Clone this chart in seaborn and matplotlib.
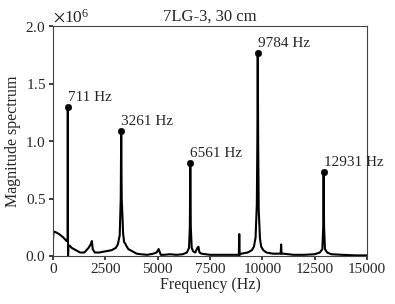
import matplotlib
matplotlib.use("Agg")
import matplotlib.pyplot as plt
from matplotlib.ticker import ScalarFormatter
import seaborn as sns
import pandas as pd

SCALE = 1e6

freq = [0, 30, 100, 300, 500, 650, 700, 705, 711, 716, 722, 740, 800, 900, 1100, 1300,
        1500, 1700, 1800, 1860, 1900, 2000, 2200, 2500, 2800, 3000, 3100, 3190, 3240,
        3261, 3285, 3320, 3350, 3400, 3450, 3500, 3600, 3800, 4000, 4200, 4500, 4800,
        4950, 5050, 5150, 5300, 5600, 5900, 6200, 6400, 6500, 6540, 6561, 6585, 6630,
        6700, 6800, 6900, 6950, 7000, 7100, 7500, 8000, 8500, 8880, 8900, 8920, 9000,
        9300, 9500, 9600, 9680, 9740, 9765, 9784, 9803, 9830, 9890, 9950, 10050, 10200,
        10500, 10850, 10880, 10900, 10920, 11000, 11500, 12000, 12500, 12750, 12870,
        12910, 12931, 12952, 12995, 13100, 13300, 13800, 14500, 15000]
magnitude = [0.14, 0.21, 0.21, 0.19, 0.16, 0.13, 0.14, 0.5, 1.30, 0.4, 0.0, 0.09, 0.09,
             0.07, 0.05, 0.03, 0.03, 0.07, 0.10, 0.13, 0.06, 0.03, 0.03, 0.04, 0.05, 0.07,
             0.10, 0.18, 0.5, 1.09, 0.5, 0.35, 0.2, 0.12, 0.11, 0.09, 0.06, 0.04, 0.02,
             0.015, 0.01, 0.02, 0.03, 0.06, 0.01, 0.01, 0.015, 0.01, 0.015, 0.03, 0.07,
             0.25, 0.81, 0.25, 0.07, 0.04, 0.03, 0.07, 0.08, 0.03, 0.02, 0.01, 0.01, 0.01,
             0.01, 0.19, 0.01, 0.02, 0.03, 0.05, 0.08, 0.16, 0.45, 1.0, 1.77, 1.0, 0.4,
             0.15, 0.08, 0.05, 0.03, 0.02, 0.02, 0.02, 0.10, 0.02, 0.02, 0.01, 0.01, 0.015,
             0.03, 0.06, 0.25, 0.73, 0.25, 0.06, 0.03, 0.015, 0.01, 0.005, 0.005]

peak_freqs = [711, 3261, 6561, 9784, 12931]
peak_mags = [1.30, 1.09, 0.81, 1.77, 0.73]
peak_labels = ["711 Hz", "3261 Hz", "6561 Hz", "9784 Hz", "12931 Hz"]

sns.set_theme(style="ticks")
plt.rcParams['font.family'] = ['Liberation Serif', 'DejaVu Serif']
plt.rcParams['mathtext.fontset'] = 'stix'

df = pd.DataFrame({"f": freq, "m": [v * SCALE for v in magnitude]})
pk = pd.DataFrame({"f": peak_freqs, "m": [v * SCALE for v in peak_mags]})

fig = plt.figure(figsize=(3.95, 3.04), dpi=100)
ax = fig.add_axes([0.134, 0.158, 0.795, 0.756])
sns.lineplot(data=df, x="f", y="m", color="black", linewidth=1.5, estimator=None, ax=ax)
sns.scatterplot(data=pk, x="f", y="m", color="black", s=22, edgecolor="black", zorder=5, ax=ax)
for f, m, lab in zip(peak_freqs, peak_mags, peak_labels):
    ax.annotate(lab, (f, m * SCALE), xytext=(0, 2), textcoords="offset points",
                ha="left", va="bottom", fontsize=11)

ax.set_xlim(0, 15000)
ax.set_ylim(0, 2.0e6)
ax.set_xticks([0, 2500, 5000, 7500, 10000, 12500, 15000])
ax.set_yticks([0, 0.5e6, 1.0e6, 1.5e6, 2.0e6])
fmt = ScalarFormatter(useMathText=True)
fmt.set_powerlimits((0, 0))
ax.yaxis.set_major_formatter(fmt)
ax.set_xlabel("Frequency (Hz)", fontsize=11.5, labelpad=1)
ax.set_ylabel("Magnitude spectrum", fontsize=11.5, labelpad=3)
ax.set_title("7LG-3, 30 cm", fontsize=12, pad=4)
ax.tick_params(labelsize=11, length=3, pad=2)
ax.yaxis.get_offset_text().set_fontsize(12.5)
for s in ax.spines.values():
    s.set_color("#444444")
    s.set_linewidth(0.8)

fig.savefig("out.png", dpi=100)
